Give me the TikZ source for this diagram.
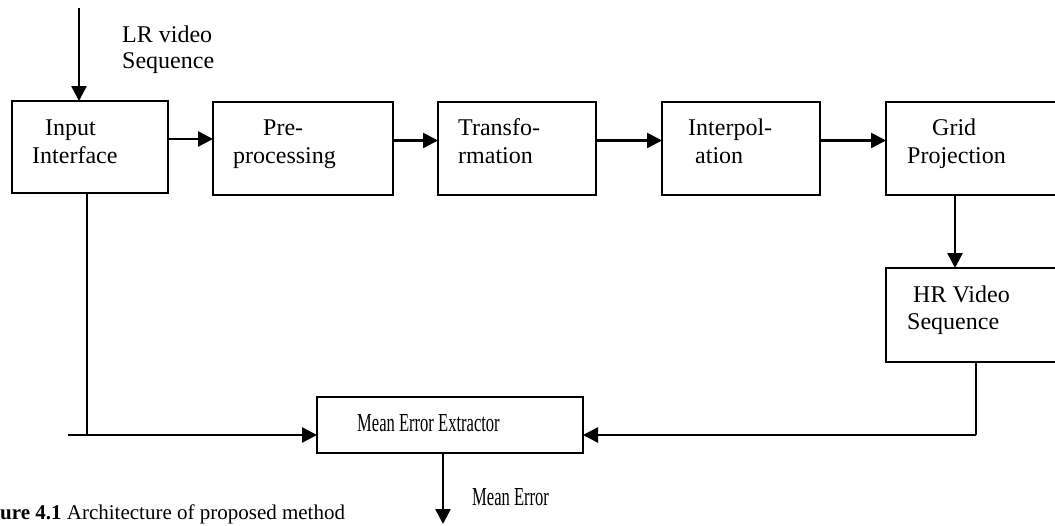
\documentclass[tikz,border=0pt]{standalone}
\usepackage{fontspec}
\setmainfont{Liberation Serif}
\usetikzlibrary{arrows.meta}
\begin{document}
\begin{tikzpicture}[x=1pt,y=-1pt,
  box/.style={rectangle, draw, line width=2pt, anchor=north west, inner sep=0pt, outer sep=0pt},
  openbox/.style={rectangle, anchor=north west, inner sep=0pt, outer sep=0pt},
  txt/.style={anchor=base west, inner sep=0pt, font=\fontsize{24}{28}\selectfont},
  arr/.style={line width=2.6pt, -{Triangle[length=15pt,width=15pt]}},
  ln/.style={line width=2pt}]
\useasboundingbox (0,0) rectangle (1055,525);
\clip (0,0) rectangle (1055,525);
% boxes
\node[box, minimum width=156pt, minimum height=92pt] (in) at (12,101) {};
\node[box, minimum width=180pt, minimum height=93pt] (pre) at (213,102) {};
\node[box, minimum width=158pt, minimum height=93pt] (tr) at (438,102) {};
\node[box, minimum width=158pt, minimum height=93pt] (ip) at (662,102) {};
\node[openbox, minimum width=169pt, minimum height=93pt] (g) at (886,102) {};
\node[openbox, minimum width=169pt, minimum height=94pt] (h) at (886,268) {};
\node[box, minimum width=266pt, minimum height=56pt] (m) at (317,397) {};
\draw[ln] (g.north east) -- (g.north west) -- (g.south west) -- (g.south east);
\draw[ln] (h.north east) -- (h.north west) -- (h.south west) -- (h.south east);
% texts
\node[txt] (t1) at (45,135) {Input};
\node[txt] (t2) at (32,163) {Interface};
\node[txt] (t3) at (263,135) {Pre-};
\node[txt] (t4) at (233,163) {processing};
\node[txt] (t5) at (458,135) {Transfo-};
\node[txt] (t6) at (458,163) {rmation};
\node[txt] (t7) at (688,135) {Interpol-};
\node[txt] (t8) at (695,163) {ation};
\node[txt] (t9) at (932,135) {Grid};
\node[txt] (t10) at (907,163) {Projection};
\node[txt] (t11) at (913,302) {HR Video};
\node[txt] (t12) at (907,329) {Sequence};
\node[txt] (t13) at (122,42) {LR video};
\node[txt] (t14) at (122,68) {Sequence};
\node[txt] (t15) at (357,431) {\scalebox{0.69}[1.08]{Mean Error Extractor}};
\node[txt] (t16) at (472,505) {\scalebox{0.69}[1.08]{Mean Error}};
\node[anchor=base west, inner sep=0pt, font=\fontsize{21}{24}\selectfont] (cap) at (0,519) {\textbf{ure 4.1} Architecture of proposed method};
% connectors
\coordinate (top) at (79,8);
\draw[arr] (top) -- (top |- in.north);
\draw[arr] ([yshift=8pt]in.east) -- ([yshift=8pt]in.east -| pre.west);
\draw[arr] ([yshift=8pt]pre.east) -- ([yshift=8pt]pre.east -| tr.west);
\draw[arr] ([yshift=8pt]tr.east) -- ([yshift=8pt]tr.east -| ip.west);
\draw[arr] ([yshift=8pt]ip.east) -- ([yshift=8pt]ip.east -| g.west);
\draw[arr] ([xshift=69pt]g.south west) -- ([xshift=69pt]h.north west);
\coordinate (lc) at (87,435);
\coordinate (ls) at (68,435);
\draw[ln] ([xshift=75pt]in.south west) -- (lc);
\draw[arr] (ls) -- (ls -| m.west);
\draw[ln] ([xshift=90pt]h.south west) -- ([xshift=90pt]h.south west |- lc);
\draw[arr] ([xshift=90pt]h.south west |- lc) -- (lc -| m.east);
\coordinate (me) at (443,524);
\draw[arr] (me |- m.south) -- (me);
\end{tikzpicture}
\end{document}
